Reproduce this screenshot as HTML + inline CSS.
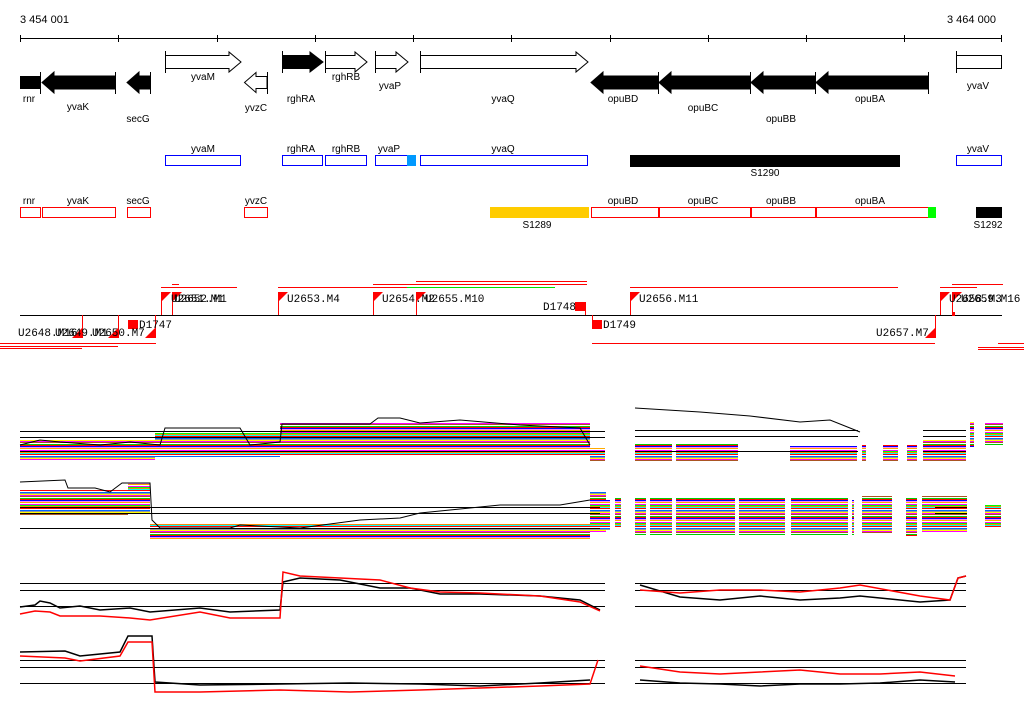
<!DOCTYPE html>
<html><head><meta charset="utf-8"><style>
html,body{margin:0;padding:0;background:#fff;}
svg{display:block;}
.g{font-family:"Liberation Sans",sans-serif;font-size:10px;fill:#000;}
.m{font-family:"Liberation Mono",monospace;font-size:11px;fill:#000;}
</style></head><body>
<svg width="1024" height="714" viewBox="0 0 1024 714" xmlns="http://www.w3.org/2000/svg" shape-rendering="crispEdges">
<defs>
<pattern id="p" width="6" height="18" patternUnits="userSpaceOnUse">
<rect y="0" width="6" height="1" fill="#f0f"/><rect y="1" width="6" height="1" fill="#0f0"/>
<rect y="2" width="6" height="1" fill="#f80"/><rect y="3" width="6" height="1" fill="#0ff"/>
<rect y="4" width="6" height="1" fill="#f00"/><rect y="5" width="6" height="1" fill="#fff"/>
<rect y="6" width="6" height="1" fill="#06f"/><rect y="7" width="6" height="1" fill="#999"/>
<rect y="8" width="6" height="1" fill="#ff0"/><rect y="9" width="6" height="1" fill="#f0f"/>
<rect y="10" width="6" height="1" fill="#a52"/><rect y="11" width="6" height="1" fill="#fff"/>
<rect y="12" width="6" height="1" fill="#0c0"/><rect y="13" width="6" height="1" fill="#f00"/>
<rect y="14" width="6" height="1" fill="#00f"/><rect y="15" width="6" height="1" fill="#f8f"/>
<rect y="16" width="6" height="1" fill="#fa0"/><rect y="17" width="6" height="1" fill="#fff"/>
</pattern>
</defs>

<!-- scale -->
<text class="g" x="20" y="23" style="font-size:11px">3 454 001</text>
<text class="g" x="947" y="23" style="font-size:11px">3 464 000</text>
<line x1="20" y1="38.5" x2="1002" y2="38.5" stroke="#000"/>
<g stroke="#000">
<line x1="20.5" y1="35" x2="20.5" y2="42"/><line x1="118.5" y1="35" x2="118.5" y2="42"/><line x1="217.5" y1="35" x2="217.5" y2="42"/><line x1="315.5" y1="35" x2="315.5" y2="42"/><line x1="413.5" y1="35" x2="413.5" y2="42"/><line x1="511.5" y1="35" x2="511.5" y2="42"/><line x1="610.5" y1="35" x2="610.5" y2="42"/><line x1="708.5" y1="35" x2="708.5" y2="42"/><line x1="806.5" y1="35" x2="806.5" y2="42"/><line x1="904.5" y1="35" x2="904.5" y2="42"/><line x1="1001.5" y1="35" x2="1001.5" y2="42"/>
</g>

<!-- forward genes -->
<g stroke="#000" fill="#fff" shape-rendering="auto">
<polygon points="165.5,55.5 229,55.5 229,52 241,62 229,72 229,68.5 165.5,68.5"/>
<polygon points="282.5,55.5 310,55.5 310,52 323,62 310,72 310,68.5 282.5,68.5" fill="#000"/>
<polygon points="325.5,55.5 355,55.5 355,52 367,62 355,72 355,68.5 325.5,68.5"/>
<polygon points="375.5,55.5 396,55.5 396,52 408,62 396,72 396,68.5 375.5,68.5"/>
<polygon points="420.5,55.5 576,55.5 576,52 588,62 576,72 576,68.5 420.5,68.5"/>
<rect x="956.5" y="55.5" width="45" height="13"/>
<!-- reverse -->
<rect x="20" y="76" width="20" height="13" fill="#000" stroke="none"/>
<polygon points="54,72 42,82.5 54,93 54,89 115,89 115,76 54,76" fill="#000"/>
<polygon points="139,72 127,82.5 139,93 139,89 150,89 150,76 139,76" fill="#000"/>
<polygon points="256,72.5 244.5,82.5 256,92.5 256,88.5 267,88.5 267,76.5 256,76.5"/>
<polygon points="603,72 591,82.5 603,93 603,89 658,89 658,76 603,76" fill="#000"/>
<polygon points="671,72 659,82.5 671,93 671,89 750,89 750,76 671,76" fill="#000"/>
<polygon points="763,72 751,82.5 763,93 763,89 815,89 815,76 763,76" fill="#000"/>
<polygon points="828,72 816,82.5 828,93 828,89 928,89 928,76 828,76" fill="#000"/>
</g>
<g stroke="#000">
<line x1="165.5" y1="51" x2="165.5" y2="73"/><line x1="282.5" y1="51" x2="282.5" y2="73"/><line x1="325.5" y1="51" x2="325.5" y2="73"/><line x1="375.5" y1="51" x2="375.5" y2="73"/><line x1="420.5" y1="51" x2="420.5" y2="73"/><line x1="956.5" y1="51" x2="956.5" y2="73"/>
<line x1="40.5" y1="72" x2="40.5" y2="94"/><line x1="115.5" y1="72" x2="115.5" y2="94"/><line x1="150.5" y1="72" x2="150.5" y2="94"/><line x1="267.5" y1="72" x2="267.5" y2="94"/><line x1="658.5" y1="72" x2="658.5" y2="94"/><line x1="750.5" y1="72" x2="750.5" y2="94"/><line x1="815.5" y1="72" x2="815.5" y2="94"/><line x1="928.5" y1="72" x2="928.5" y2="94"/>
</g>
<g class="g" text-anchor="middle">
<text x="29" y="102">rnr</text><text x="78" y="110">yvaK</text><text x="138" y="122">secG</text>
<text x="203" y="80">yvaM</text><text x="256" y="111">yvzC</text><text x="301" y="102">rghRA</text>
<text x="346" y="80">rghRB</text><text x="390" y="89">yvaP</text><text x="503" y="102">yvaQ</text>
<text x="623" y="102">opuBD</text><text x="703" y="111">opuBC</text><text x="781" y="122">opuBB</text>
<text x="870" y="102">opuBA</text><text x="978" y="89">yvaV</text>
</g>

<!-- blue boxes -->
<g fill="none" stroke="#00f">
<rect x="165.5" y="155.5" width="75" height="10"/><rect x="282.5" y="155.5" width="40" height="10"/>
<rect x="325.5" y="155.5" width="41" height="10"/><rect x="375.5" y="155.5" width="32" height="10"/>
<rect x="420.5" y="155.5" width="167" height="10"/><rect x="956.5" y="155.5" width="45" height="10"/>
</g>
<rect x="407" y="155" width="9" height="11" fill="#09f"/>
<rect x="630" y="155" width="270" height="12" fill="#000"/>
<g class="g" text-anchor="middle">
<text x="203" y="152">yvaM</text><text x="301" y="152">rghRA</text><text x="346" y="152">rghRB</text>
<text x="389" y="152">yvaP</text><text x="503" y="152">yvaQ</text><text x="978" y="152">yvaV</text>
<text x="765" y="176">S1290</text>
</g>

<!-- red boxes -->
<g fill="none" stroke="#f00">
<rect x="20.5" y="207.5" width="20" height="10"/><rect x="42.5" y="207.5" width="73" height="10"/>
<rect x="127.5" y="207.5" width="23" height="10"/><rect x="244.5" y="207.5" width="23" height="10"/>
<rect x="591.5" y="207.5" width="67" height="10"/><rect x="659.5" y="207.5" width="91" height="10"/>
<rect x="751.5" y="207.5" width="64" height="10"/><rect x="816.5" y="207.5" width="112" height="10"/>
</g>
<rect x="928" y="207" width="8" height="11" fill="#0f0"/>
<rect x="490" y="207" width="99" height="11" fill="#fc0"/>
<rect x="976" y="207" width="26" height="11" fill="#000"/>
<g class="g" text-anchor="middle">
<text x="29" y="204">rnr</text><text x="78" y="204">yvaK</text><text x="138" y="204">secG</text><text x="256" y="204">yvzC</text>
<text x="623" y="204">opuBD</text><text x="703" y="204">opuBC</text><text x="781" y="204">opuBB</text><text x="870" y="204">opuBA</text>
<text x="537" y="228">S1289</text><text x="988" y="228">S1292</text>
</g>

<!-- transcription units -->
<line x1="20" y1="315.5" x2="1002" y2="315.5" stroke="#000"/>
<g stroke="#f00">
<line x1="161" y1="287.5" x2="237" y2="287.5"/><line x1="172" y1="284.5" x2="179" y2="284.5"/>
<line x1="278" y1="287.5" x2="530" y2="287.5"/><line x1="373" y1="284.5" x2="587" y2="284.5"/>
<line x1="416" y1="281.5" x2="587" y2="281.5"/><line x1="630" y1="287.5" x2="898" y2="287.5"/>
<line x1="940" y1="287.5" x2="977" y2="287.5"/><line x1="952" y1="284.5" x2="1003" y2="284.5"/>
<line x1="0" y1="343.5" x2="156" y2="343.5"/><line x1="0" y1="346.5" x2="118" y2="346.5"/><line x1="0" y1="348.5" x2="82" y2="348.5"/>
<line x1="592" y1="343.5" x2="935" y2="343.5"/><line x1="998" y1="343.5" x2="1024" y2="343.5"/><line x1="978" y1="347.5" x2="1024" y2="347.5"/><line x1="978" y1="349.5" x2="1024" y2="349.5"/>
<line x1="161.5" y1="292" x2="161.5" y2="315"/><line x1="172.5" y1="292" x2="172.5" y2="315"/><line x1="278.5" y1="292" x2="278.5" y2="315"/><line x1="373.5" y1="292" x2="373.5" y2="315"/><line x1="416.5" y1="292" x2="416.5" y2="315"/><line x1="630.5" y1="292" x2="630.5" y2="315"/><line x1="940.5" y1="292" x2="940.5" y2="315"/><line x1="952.5" y1="292" x2="952.5" y2="315"/>
<line x1="82.5" y1="315" x2="82.5" y2="338"/><line x1="118.5" y1="315" x2="118.5" y2="338"/><line x1="155.5" y1="315" x2="155.5" y2="338"/><line x1="935.5" y1="315" x2="935.5" y2="338"/>
<line x1="585.5" y1="302" x2="585.5" y2="315"/><line x1="592.5" y1="315" x2="592.5" y2="328"/>
</g>
<line x1="407" y1="287.5" x2="555" y2="287.5" stroke="#0d0"/>
<g fill="#f00" shape-rendering="auto">
<polygon points="161,292 171,292 161,302"/><polygon points="172,292 182,292 172,302"/><polygon points="278,292 288,292 278,302"/>
<polygon points="373,292 383,292 373,302"/><polygon points="416,292 426,292 416,302"/><polygon points="630,292 640,292 630,302"/>
<polygon points="940,292 950,292 940,302"/><polygon points="952,292 962,292 952,302"/>
<polygon points="82,328 82,338 72,338"/><polygon points="118,328 118,338 108,338"/><polygon points="155,328 155,338 145,338"/><polygon points="935,328 935,338 925,338"/>
</g>
<rect x="575" y="302" width="10" height="9" fill="#f00"/>
<rect x="592" y="320" width="10" height="9" fill="#f00"/>
<rect x="128" y="320" width="10" height="9" fill="#f00"/>
<rect x="952" y="312" width="3" height="4" fill="#f00"/>
<g class="m">
<text x="171" y="302">U2651.M1</text><text x="174" y="302">U2652.M1</text>
<text x="287" y="302">U2653.M4</text><text x="382" y="302">U2654.M2</text><text x="425" y="302">U2655.M10</text>
<text x="639" y="302">U2656.M11</text><text x="949" y="302">U2658.M3</text><text x="961" y="302">U2659.M16</text>
<text x="543" y="310">D1748</text><text x="603" y="328">D1749</text><text x="139" y="328">D1747</text>
<text x="18" y="336">U2648.M16</text><text x="55" y="336">U2649.M1</text><text x="92" y="336">U2650.M7</text>
<text x="876" y="336">U2657.M7</text>
</g>

<!-- panel 1 -->
<g fill="url(#p)">
<rect x="20" y="440" width="135" height="20"/><rect x="155" y="433" width="125" height="24"/>
<rect x="280" y="423" width="310" height="32"/><rect x="590" y="448" width="15" height="14"/>
<rect x="635" y="444" width="37" height="18"/><rect x="676" y="444" width="62" height="18"/><rect x="790" y="446" width="67" height="16"/>
<rect x="862" y="445" width="4" height="17"/><rect x="883" y="445" width="15" height="17"/><rect x="907" y="445" width="10" height="17"/>
<rect x="923" y="440" width="43" height="22"/><rect x="970" y="422" width="4" height="25"/><rect x="985" y="423" width="18" height="22"/>
</g>
<g fill="none" stroke="#000" shape-rendering="auto">
<polyline points="20,445 40,440 60,442 100,445 130,442 160,445 165,428 240,428 250,445 280,442 282,424 370,424 378,418 400,418 420,423 460,420 520,425 580,428 590,445"/>
<polyline points="635,408 700,412 750,416 800,422 830,420 860,432"/>
</g>
<g stroke="#000"><line x1="20" y1="431.5" x2="605" y2="431.5"/><line x1="20" y1="437.5" x2="605" y2="437.5"/><line x1="20" y1="451.5" x2="605" y2="451.5"/>
<line x1="635" y1="430.5" x2="858" y2="430.5"/><line x1="635" y1="436.5" x2="858" y2="436.5"/><line x1="635" y1="451.5" x2="858" y2="451.5"/>
<line x1="923" y1="430.5" x2="966" y2="430.5"/><line x1="923" y1="436.5" x2="966" y2="436.5"/><line x1="923" y1="451.5" x2="966" y2="451.5"/></g>

<!-- panel 2 -->
<g fill="url(#p)">
<rect x="20" y="490" width="108" height="26"/><rect x="128" y="483" width="22" height="30"/>
<rect x="150" y="524" width="440" height="16"/><rect x="590" y="492" width="16" height="40"/>
<rect x="635" y="497" width="11" height="38"/><rect x="650" y="497" width="22" height="38"/><rect x="676" y="497" width="59" height="38"/>
<rect x="739" y="497" width="46" height="38"/><rect x="791" y="497" width="57" height="38"/><rect x="852" y="500" width="2" height="35"/>
<rect x="862" y="496" width="30" height="38"/><rect x="906" y="498" width="11" height="38"/><rect x="922" y="496" width="45" height="36"/>
<rect x="985" y="505" width="16" height="22"/><rect x="606" y="500" width="4" height="30"/><rect x="615" y="497" width="6" height="30"/>
</g>
<g fill="none" stroke="#000" shape-rendering="auto">
<polyline points="20,482 65,480 68,488 95,488 110,492 122,483 150,483 152,520 160,528 230,528 240,525 300,528 360,520 400,518 420,513 470,508 500,505 560,505 590,500"/>
</g>
<g stroke="#000"><line x1="20" y1="507.5" x2="600" y2="507.5"/><line x1="20" y1="513.5" x2="600" y2="513.5"/><line x1="20" y1="528.5" x2="600" y2="528.5"/>
<line x1="935" y1="507.5" x2="967" y2="507.5"/><line x1="935" y1="513.5" x2="967" y2="513.5"/></g>

<!-- panel 3 -->
<g stroke="#000"><line x1="20" y1="583.5" x2="605" y2="583.5"/><line x1="20" y1="590.5" x2="605" y2="590.5"/><line x1="20" y1="606.5" x2="605" y2="606.5"/>
<line x1="635" y1="583.5" x2="966" y2="583.5"/><line x1="635" y1="590.5" x2="966" y2="590.5"/><line x1="635" y1="606.5" x2="966" y2="606.5"/>
<line x1="20" y1="660.5" x2="605" y2="660.5"/><line x1="20" y1="667.5" x2="605" y2="667.5"/><line x1="20" y1="683.5" x2="605" y2="683.5"/>
<line x1="635" y1="660.5" x2="966" y2="660.5"/><line x1="635" y1="667.5" x2="966" y2="667.5"/><line x1="635" y1="683.5" x2="966" y2="683.5"/></g>
<g fill="none" shape-rendering="auto" stroke-width="1.5">
<polyline stroke="#000" points="20,607 35,605 40,601 50,603 60,608 80,606 100,610 130,608 150,612 200,608 230,612 280,610 283,582 300,578 340,580 380,588 410,588 440,594 480,594 540,596 580,600 600,610"/>
<polyline stroke="#f00" points="20,614 35,611 50,612 60,616 100,616 130,618 150,620 200,612 230,618 280,618 283,572 300,576 340,578 380,580 410,588 440,592 480,593 540,596 580,602 600,611"/>
<polyline stroke="#000" points="640,585 680,597 720,600 760,596 800,600 840,598 860,596 920,602 950,600 958,578 966,576"/>
<polyline stroke="#f00" points="640,590 680,593 720,590 760,590 800,592 840,588 860,585 920,596 950,600 958,578 966,576"/>
<polyline stroke="#000" points="20,652 65,651 80,656 120,652 128,636 152,636 155,682 200,685 280,684 350,683 420,684 480,686 540,683 590,680"/>
<polyline stroke="#f00" points="20,656 65,658 80,661 120,656 128,642 152,642 155,692 200,692 280,690 350,692 420,690 480,688 540,686 590,684 598,660"/>
<polyline stroke="#f00" points="640,666 680,672 720,674 760,672 800,670 840,674 880,674 920,672 955,676"/>
<polyline stroke="#000" points="640,680 680,683 720,684 760,686 800,684 840,684 880,683 920,680 955,682"/>
</g>
</svg>
</body></html>
